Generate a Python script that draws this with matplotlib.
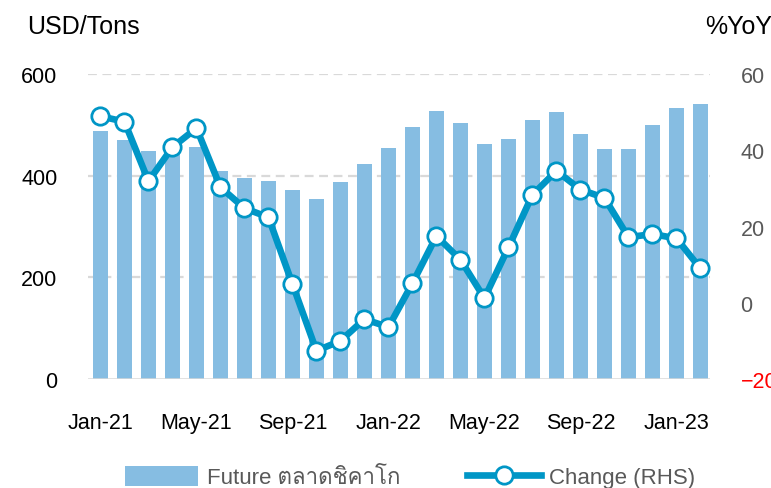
import matplotlib
matplotlib.use("Agg")
import matplotlib.pyplot as plt
from matplotlib import font_manager, ft2font
from matplotlib.lines import Line2D
from matplotlib.patches import Patch
import numpy as np

months = ["Jan-21", "Feb-21", "Mar-21", "Apr-21", "May-21", "Jun-21", "Jul-21",
          "Aug-21", "Sep-21", "Oct-21", "Nov-21", "Dec-21", "Jan-22", "Feb-22",
          "Mar-22", "Apr-22", "May-22", "Jun-22", "Jul-22", "Aug-22", "Sep-22",
          "Oct-22", "Nov-22", "Dec-22", "Jan-23", "Feb-23"]
future_price = [487, 471, 449, 455, 457, 410, 396, 389, 371, 354, 387, 423, 455,
                495, 528, 504, 463, 472, 510, 525, 482, 452, 453, 499, 533, 541]
yoy_change = [48.9, 47.5, 31.9, 40.8, 45.8, 30.3, 24.8, 22.4, 4.9, -12.6, -10.0,
              -4.3, -6.4, 5.1, 17.5, 11.3, 1.2, 14.5, 28.3, 34.6, 29.7, 27.5,
              17.2, 18.0, 16.9, 9.0]
left_ticks = [0, 200, 400, 600]
right_ticks = [-20, 0, 20, 40, 60]
bar_label = "Future ตลาดชิคาโก"
line_label = "Change (RHS)"


def thai_family():
    for f in font_manager.fontManager.ttflist:
        try:
            cmap = ft2font.FT2Font(f.fname).get_charmap()
        except Exception:
            continue
        if 0x0E15 in cmap and 0x0E42 in cmap:
            return f.name
    return None


families = ["Liberation Sans"]
tf = thai_family()
if tf:
    families.append(tf)
families.append("DejaVu Sans")
plt.rcParams["font.family"] = families

BAR = "#86BDE2"
LINE = "#0096C6"
GRID = "#D9D9D9"
FS = 15.5
LINE_KW = dict(color=LINE, lw=4.8, marker="o", markersize=12.5,
               markerfacecolor="white", markeredgecolor=LINE,
               markeredgewidth=2.0)

fig = plt.figure(figsize=(7.71, 4.89), dpi=100)
ax = fig.add_axes([88 / 771, 1 - 380 / 489, 622 / 771, 305 / 489])
x = np.arange(len(months))

ax.bar(x, future_price, width=0.63, color=BAR, zorder=2)
ax.set_ylim(0, 600)
ax.set_xlim(-0.52, 25.4)
ax.set_yticks(left_ticks)
for v in left_ticks[1:]:
    ax.axhline(v, color=GRID, lw=1.6, ls=(0, (4, 2.5)), zorder=1)
ax.axhline(0, color=GRID, lw=1.8, zorder=3)
ax.set_xticks(x[::4])
ax.set_xticklabels(months[::4])
ax.tick_params(axis="x", length=0, pad=24, labelsize=FS, colors="black")
ax.tick_params(axis="y", length=0, pad=22, labelsize=FS, colors="black")
for s in ax.spines.values():
    s.set_visible(False)

ax2 = ax.twinx()
ax2.plot(x, yoy_change, zorder=4, **LINE_KW)
ax2.set_ylim(-20, 60)
ax2.set_yticks(right_ticks)
ax2.tick_params(axis="y", length=0, pad=22, labelsize=FS, colors="#595959")
for lbl, v in zip(ax2.get_yticklabels(), right_ticks):
    if v < 0:
        lbl.set_color("#FF0000")
for s in ax2.spines.values():
    s.set_visible(False)

fig.text(27 / 771, 1 - 27 / 489, "USD/Tons", fontsize=18, va="center",
         ha="left", color="black")
fig.text(705 / 771, 1 - 27 / 489, "%YoY", fontsize=18, va="center",
         ha="left", color="black")

handles = [
    Patch(facecolor=BAR, edgecolor="none"),
    Line2D([], [], **LINE_KW),
]
fig.legend(handles, [bar_label, line_label], loc="center",
           bbox_to_anchor=(0.532, 1 - 478 / 489), ncol=2, frameon=False,
           fontsize=16, handlelength=3.3, handleheight=1.0,
           handletextpad=0.4, columnspacing=3.0, labelcolor="#595959")

fig.savefig("out.png", dpi=100)
